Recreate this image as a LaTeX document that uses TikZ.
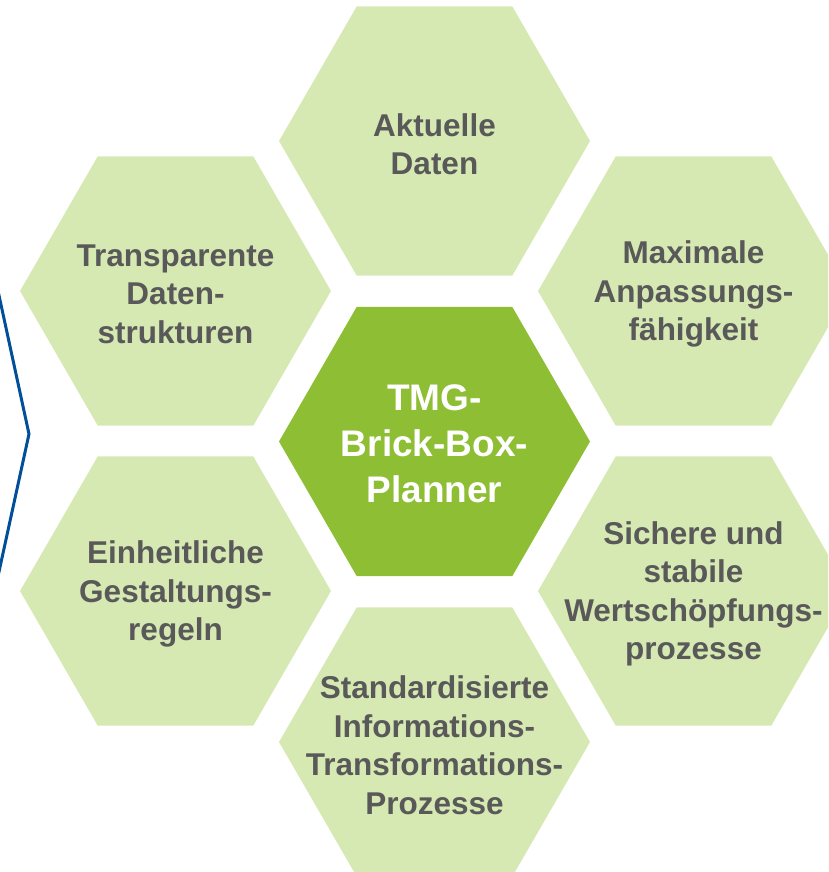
\documentclass[tikz,border=0pt]{standalone}
\usepackage{fontspec}
\setmainfont{Liberation Sans}
\usepackage{xcolor}
\usetikzlibrary{
    shapes.geometric,
    positioning,
    calc
}
\definecolor{hexlight}{HTML}{D7E9B3}
\definecolor{hexdark}{HTML}{8DBE33}
\definecolor{txtgray}{HTML}{595959}
\definecolor{bracketblue}{HTML}{004F98}

\begin{document}
\begin{tikzpicture}[
        x=1pt, y=-1pt,
        hexa/.style={regular polygon, regular polygon sides=6, minimum size=311pt, inner sep=0pt, outer sep=0pt, fill=hexlight},
        hexlabel/.style={align=center, text=txtgray, inner sep=0pt, yshift=-3pt, font=\fontsize{31.5}{38.5}\selectfont\bfseries},
        corelabel/.style={align=center, text=white, inner sep=0pt, yshift=-2pt, font=\fontsize{37}{46}\selectfont\bfseries}
    ]
        \useasboundingbox (0,0) rectangle (828,872);
        \clip (0,0) rectangle (828,872);

        % Bracket on the left
        \coordinate (b1) at (-5,277);
        \coordinate (b2) at (29,434);
        \coordinate (b3) at (-5,590);
        \draw[bracketblue, line width=3pt, line join=miter] (b1) -- (b2) -- (b3);

        % Centre
        \node[hexa, fill=hexdark] (core) at (434.5,441.5) {};
        \node[corelabel] (core-t) at (core) {TMG-\\Brick-Box-\\Planner};

        % Top
        \node[hexa] (top) at (434.5,141) {};
        \node[hexlabel] (top-t) at (top) {Aktuelle\\Daten};

        % Upper left
        \node[hexa] (ul) at (175.5,291) {};
        \node[hexlabel] (ul-t) at (ul) {Transparente\\Daten-\\strukturen};

        % Upper right
        \node[hexa] (ur) at (693.5,291) {};
        \node[hexlabel] (ur-t) at (ur) {Maximale\\Anpassungs-\\fähigkeit};

        % Lower left
        \node[hexa] (ll) at (175.5,591) {};
        \node[hexlabel] (ll-t) at (ll) {Einheitliche\\Gestaltungs-\\regeln};

        % Lower right
        \node[hexa] (lr) at (693.5,591) {};
        \node[hexlabel] (lr-t) at (lr) {Sichere und\\stabile\\Wertschöpfungs-\\prozesse};

        % Bottom
        \node[hexa] (bot) at (434.5,742) {};
        \node[hexlabel] (bot-t) at (bot) {Standardisierte\\Informations-\\Transformations-\\Prozesse};
    \end{tikzpicture}
\end{document}
